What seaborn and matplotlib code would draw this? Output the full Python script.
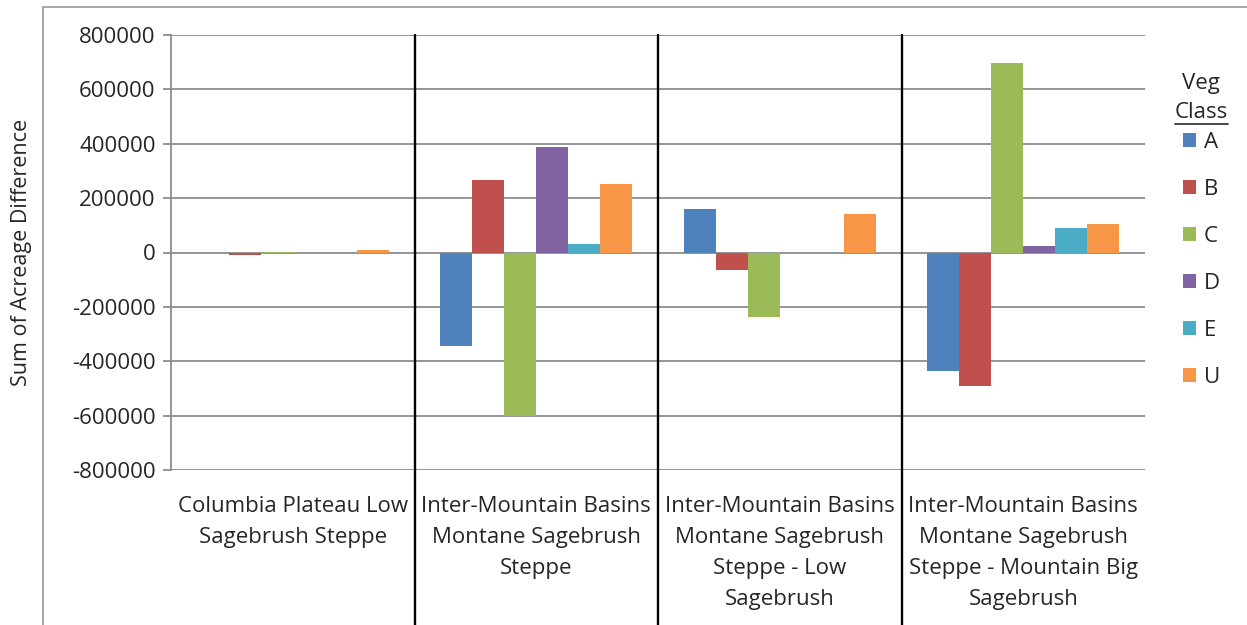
import numpy as np
import pandas as pd
import matplotlib
matplotlib.use("Agg")
import matplotlib.pyplot as plt
import matplotlib.lines as mlines
import seaborn as sns

categories = [
    "Columbia Plateau Low\nSagebrush Steppe",
    "Inter-Mountain Basins\nMontane Sagebrush\nSteppe",
    "Inter-Mountain Basins\nMontane Sagebrush\nSteppe - Low\nSagebrush",
    "Inter-Mountain Basins\nMontane Sagebrush\nSteppe - Mountain Big\nSagebrush",
]
classes = ["A", "B", "C", "D", "E", "U"]
vals_A = [0, -343000, 160000, -437000]
vals_B = [-10000, 268000, -65000, -492000]
vals_C = [3000, -600000, -238000, 698000]
vals_D = [0, 388000, 0, 25000]
vals_E = [0, 30000, 0, 90000]
vals_U = [8000, 252000, 142000, 105000]
colors = ["#4F81BD", "#C0504D", "#9BBB59", "#8064A2", "#4BACC6", "#F79646"]
yticks = [-800000, -600000, -400000, -200000, 0, 200000, 400000, 600000, 800000]

series = [vals_A, vals_B, vals_C, vals_D, vals_E, vals_U]
rows = []
for cls, vals in zip(classes, series):
    for cat, v in zip(categories, vals):
        rows.append({"cat": cat, "cls": cls, "val": v})
df = pd.DataFrame(rows)

sns.set_style("white")
plt.rcParams["font.family"] = ["Open Sans", "DejaVu Sans"]
FS = 16
TXT = "#262626"
GRID = "#8c8c8c"

fig = plt.figure(figsize=(12.47, 6.25), dpi=100)
ax = fig.add_axes([171/1247, 1-470/625, (1145-171)/1247, (470-35)/625])

sns.barplot(data=df, x="cat", y="val", hue="cls", order=categories,
            hue_order=classes, palette=colors, width=0.79, gap=0,
            errorbar=None, linewidth=0, saturation=1, ax=ax, zorder=3)

ax.set_ylim(-800000, 800000)
ax.set_xlim(-0.5, len(categories) - 0.5)
ax.set_yticks(yticks)
ax.set_yticklabels([str(t) for t in yticks], fontsize=FS, color=TXT)
ax.yaxis.grid(True, color=GRID, linewidth=1.3, zorder=0)
ax.set_axisbelow(True)
for s in ["top", "right", "bottom"]:
    ax.spines[s].set_visible(False)
ax.spines["left"].set_color(GRID)
ax.spines["left"].set_linewidth(1.3)
ax.tick_params(axis="y", which="major", left=True, length=6, width=1.3,
               color=GRID, pad=5)
ax.tick_params(axis="x", length=0, pad=19)
ax.set_xticks(range(len(categories)))
ax.set_xticklabels(categories, fontsize=FS, color=TXT, linespacing=1.62,
                   va="top")
ax.set_xlabel("")
ax.set_ylabel("Sum of Acreage Difference", fontsize=FS - 0.5, color=TXT)
ax.yaxis.set_label_coords((32 - 171) / 974, 0.5)

# separators between categories, extended through the labels
trans = matplotlib.transforms.blended_transform_factory(ax.transData, ax.transAxes)
for i in range(1, len(categories)):
    ax.plot([i - 0.5, i - 0.5], [1, -0.4], color="black", linewidth=1.7,
            transform=trans, clip_on=False, zorder=5)

# outer frame
fig.add_artist(mlines.Line2D([43/1247, 43/1247], [0, 1-7/625], color="#a6a6a6",
                             linewidth=1.4, transform=fig.transFigure))
fig.add_artist(mlines.Line2D([43/1247, 1], [1-7/625, 1-7/625], color="#a6a6a6",
                             linewidth=1.4, transform=fig.transFigure))

# legend
handles, labels = ax.get_legend_handles_labels()
if ax.legend_:
    ax.legend_.remove()
leg = fig.legend(handles, labels, loc="upper left",
                 bbox_to_anchor=(1183/1247, 1-132/625), frameon=False,
                 fontsize=FS, handlelength=0.6, handleheight=0.6,
                 handletextpad=0.35, labelspacing=1.17, borderaxespad=0,
                 borderpad=0)
for t in leg.get_texts():
    t.set_color(TXT)
fig.text(1201/1247, 1-83/625, "Veg", ha="center", va="center", fontsize=FS, color=TXT)
fig.text(1201/1247, 1-112/625, "Class", ha="center", va="center", fontsize=FS, color=TXT)
fig.add_artist(mlines.Line2D([1175/1247, 1228/1247], [1-124/625, 1-124/625],
                             color=TXT, linewidth=1.2, transform=fig.transFigure))

fig.savefig("out.png", dpi=100)
